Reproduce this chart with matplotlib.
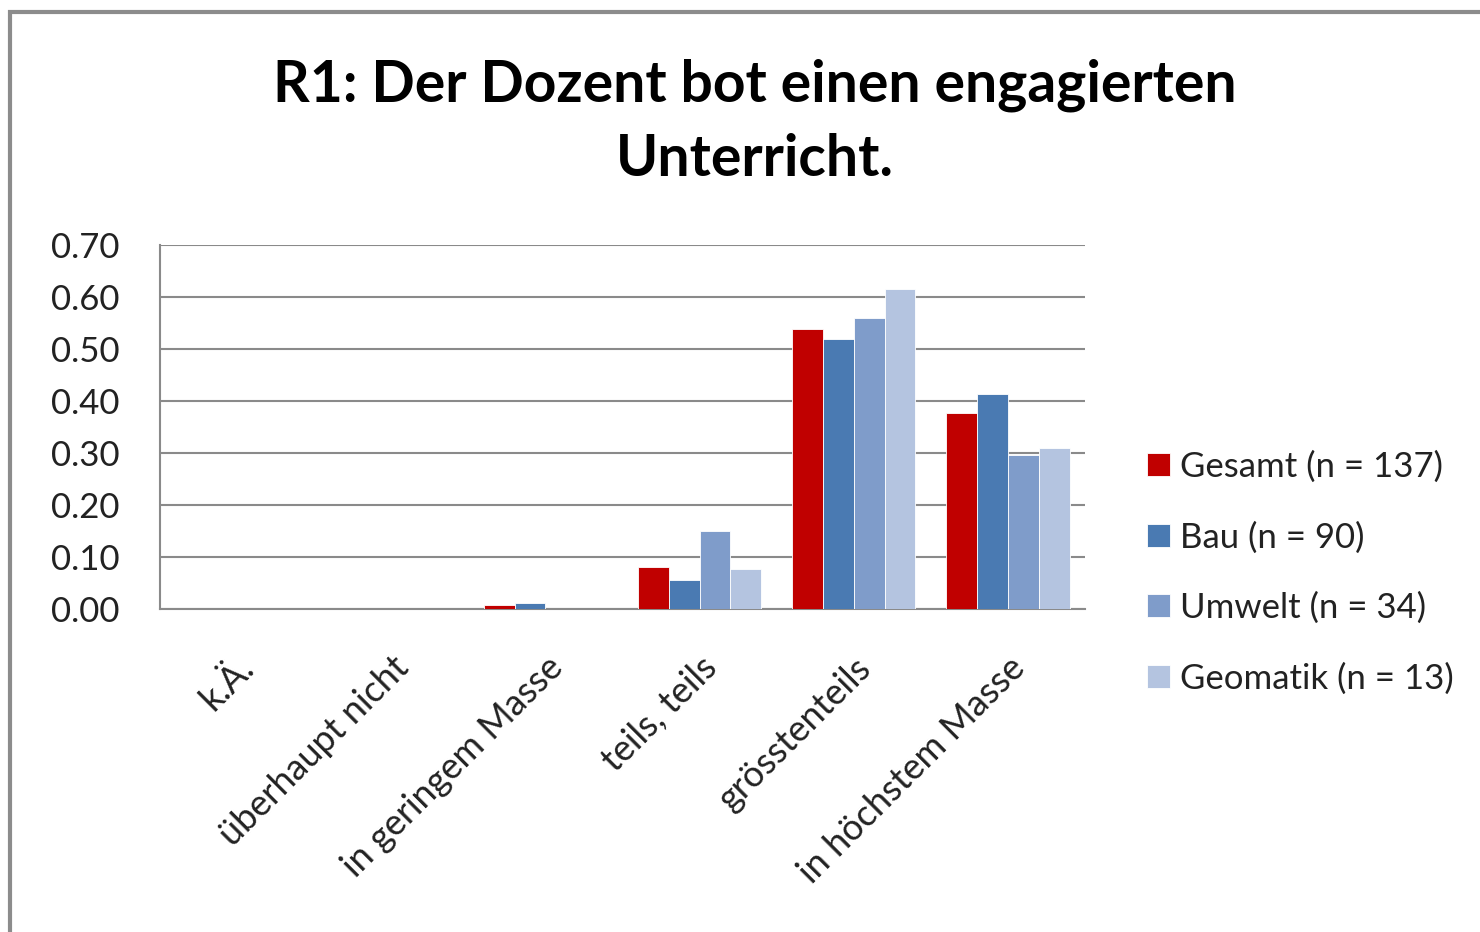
import matplotlib.pyplot as plt
import numpy as np
from matplotlib.patches import Rectangle

plt.rcParams['font.family'] = ['Lato', 'DejaVu Sans']

CATEGORIES = ['k.Ä.', 'überhaupt nicht', 'in geringem Masse', 'teils, teils',
              'grösstenteils', 'in höchstem Masse']
SERIES = ['Gesamt (n = 137)', 'Bau (n = 90)', 'Umwelt (n = 34)', 'Geomatik (n = 13)']
GESAMT = [0.0, 0.0, 0.007, 0.081, 0.538, 0.377]
BAU = [0.0, 0.0, 0.011, 0.056, 0.519, 0.413]
UMWELT = [0.0, 0.0, 0.0, 0.150, 0.560, 0.296]
GEOMATIK = [0.0, 0.0, 0.0, 0.077, 0.615, 0.310]
COLORS = ['#C00000', '#4A7AB2', '#7F9CCA', '#B4C4E0']

values = [GESAMT, BAU, UMWELT, GEOMATIK]

fig = plt.figure(figsize=(14.8, 9.32), dpi=100)
ax = fig.add_axes([160 / 1480, 1 - 609 / 932, 925 / 1480, 364 / 932])

# outer chart frame (only left/top visible in the crop)
fig.patches.append(Rectangle((10 / 1480, -0.1), 1.2, 1 - 12 / 932 + 0.1,
                             transform=fig.transFigure, fill=False,
                             edgecolor='#8c8c8c', linewidth=3))

x = np.arange(len(CATEGORIES))
w = 0.2
for i, (vals, name, col) in enumerate(zip(values, SERIES, COLORS)):
    ax.bar(x + (i - 1.5) * w, vals, width=w, color=col, label=name,
           edgecolor='white', linewidth=0.6, zorder=3)

ax.set_xlim(-0.5, len(CATEGORIES) - 0.5)
ax.set_ylim(0, 0.70)
ax.set_yticks(np.arange(0, 0.71, 0.1))
ax.set_yticklabels([f'{v:.2f}' for v in np.arange(0, 0.71, 0.1)], fontsize=25, color='#222222')
ax.yaxis.grid(True, color='#8a8a8a', linewidth=1.5, zorder=0)
ax.set_axisbelow(True)
for s in ['top', 'right']:
    ax.spines[s].set_visible(False)
for s in ['left', 'bottom']:
    ax.spines[s].set_color('#8a8a8a')
    ax.spines[s].set_linewidth(1.5)
ax.tick_params(axis='y', length=0, pad=29)
ax.tick_params(axis='x', length=0, pad=30)
ax.set_xticks(x)
ax.set_xticklabels(CATEGORIES, rotation=45, ha='right', rotation_mode='anchor',
                   fontsize=26, color='#222222')

fig.text(0.51, 1 - 122 / 932, 'R1: Der Dozent bot einen engagierten\nUnterricht.',
         ha='center', va='center', fontsize=41, fontweight='bold', linespacing=1.48)

leg = ax.legend(loc='center left', bbox_to_anchor=(1.052, -0.3, 0.4, 0.8), frameon=False,
                fontsize=25, handlelength=0.65, handleheight=0.65, handletextpad=0.3,
                labelspacing=1.1, borderaxespad=0)
for t in leg.get_texts():
    t.set_color('#222222')

fig.savefig('out.png', dpi=100)
